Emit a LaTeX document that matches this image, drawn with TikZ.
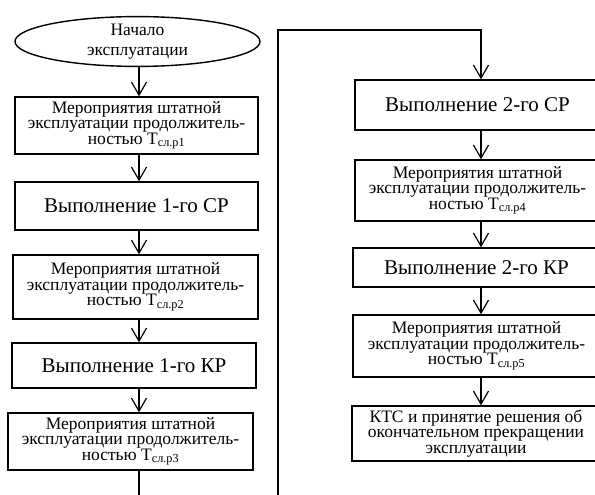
\documentclass[tikz,border=0pt]{standalone}
\usepackage{fontspec}
\setmainfont{Liberation Serif}
\usetikzlibrary{arrows.meta,shapes.geometric}

\begin{document}
\begin{tikzpicture}[x=1pt,y=-1pt,line width=1.4pt,
  blk/.style={draw,rectangle,inner sep=0pt,align=center,minimum width=245pt},
  big/.style={font=\fontsize{21}{23}\selectfont},
  small/.style={font=\fontsize{17.5}{15.5}\selectfont},
  arr/.style={line width=1.2pt,-{Straight Barb[length=13pt,width=15pt]}}]
\clip (0,0) rectangle (595,495);
\node[draw,ellipse,inner sep=0pt,minimum width=245pt,minimum height=43pt,align=center,font=\fontsize{17.5}{20}\selectfont] (start) at (137.5,41.5) {Начало\\ эксплуатации};
\node[blk,small,minimum width=243pt,minimum height=57pt] (b1) at (136.5,125.5) {Мероприятия штатной\\ эксплуатации продолжитель-\\ ностью Т\textsubscript{сл.р1}};
\node[blk,big,minimum width=243pt,minimum height=48pt] (b2) at (136.5,206) {Выполнение 1-го СР};
\node[blk,small,minimum height=64pt] (b3) at (135.5,287) {Мероприятия штатной\\ эксплуатации продолжитель-\\ ностью Т\textsubscript{сл.р2}};
\node[blk,big,minimum width=244pt,minimum height=45pt] (b4) at (134,365.5) {Выполнение 1-го КР};
\node[blk,small,minimum height=57pt] (b5) at (130.5,441.5) {Мероприятия штатной\\ эксплуатации продолжитель-\\ ностью Т\textsubscript{сл.р3}};
\node[blk,big,minimum height=50pt] (b6) at (477.5,105) {Выполнение 2-го СР};
\node[blk,small,minimum height=61pt] (b7) at (477.5,190.5) {Мероприятия штатной\\ эксплуатации продолжитель-\\ ностью Т\textsubscript{сл.р4}};
\node[blk,big,minimum width=247pt,minimum height=39pt] (b8) at (476.5,267.5) {Выполнение 2-го КР};
\node[blk,small,minimum width=247pt,minimum height=62pt] (b9) at (476.5,346) {Мероприятия штатной\\ эксплуатации продолжитель-\\ ностью Т\textsubscript{сл.р5}};
\node[blk,small,minimum width=248pt,minimum height=55pt] (b10) at (476,433.5) {КТС и принятие решения об\\ окончательном прекращении\\ эксплуатации};
\coordinate (la) at (139,0);
\coordinate (ra) at (481,0);
\coordinate (lend) at (139,500);
\coordinate (rend) at (278,500);
\coordinate (rtop) at (278,30);
\draw[arr] (start.south -| la) -- (b1.north -| la);
\draw[arr] (b1.south -| la) -- (b2.north -| la);
\draw[arr] (b2.south -| la) -- (b3.north -| la);
\draw[arr] (b3.south -| la) -- (b4.north -| la);
\draw[arr] (b4.south -| la) -- (b5.north -| la);
\draw[line width=1.2pt] (b5.south -| la) -- (lend);
\draw[arr] (rend) -- (rtop) -| (b6.north -| ra);
\draw[arr] (b6.south -| ra) -- (b7.north -| ra);
\draw[arr] (b7.south -| ra) -- (b8.north -| ra);
\draw[arr] (b8.south -| ra) -- (b9.north -| ra);
\draw[arr] (b9.south -| ra) -- (b10.north -| ra);
\end{tikzpicture}
\end{document}
